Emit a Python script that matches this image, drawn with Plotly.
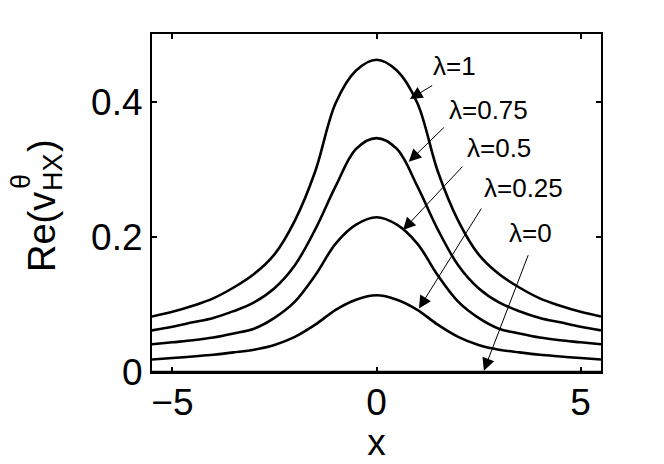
import plotly.graph_objects as go

# values (curves are symmetric about x=0)
x_vals = [-5.5, -5, -4.5, -4, -3.5, -3, -2.5, -2, -1.5, -1, -0.5, 0,
          0.5, 1, 1.5, 2, 2.5, 3, 3.5, 4, 4.5, 5, 5.5]

half_l1 = [0.082, 0.089, 0.098, 0.109, 0.125, 0.145, 0.174, 0.224, 0.297, 0.398, 0.446, 0.462]
half_l075 = [0.0615, 0.067, 0.0735, 0.080, 0.090, 0.103, 0.124, 0.158, 0.211, 0.275, 0.330, 0.346]
half_l05 = [0.041, 0.044, 0.047, 0.051, 0.057, 0.064, 0.080, 0.104, 0.143, 0.190, 0.218, 0.229]
half_l025 = [0.0184, 0.0206, 0.023, 0.0255, 0.029, 0.033, 0.040, 0.052, 0.070, 0.092, 0.107, 0.1135]
half_l0 = [0.0] * 12

lam_labels = ['\u03bb=1', '\u03bb=0.75', '\u03bb=0.5', '\u03bb=0.25', '\u03bb=0']
label_xy = [(1.90, 0.452), (2.75, 0.388), (2.99, 0.331), (3.61, 0.272), (3.77, 0.205)]
arrow_tail = [(1.40, 0.425), (1.69, 0.364), (2.14, 0.306), (2.59, 0.244), (3.73, 0.175)]
arrow_head = [(0.82, 0.404), (0.79, 0.311), (0.65, 0.210), (1.04, 0.094), (2.63, 0.002)]

x_ticks = [-5, 0, 5]
y_ticks = [0, 0.2, 0.4]

# y label pieces: Re(v, superscript theta, subscript HX, closing bracket
ylab_parts = ['Re(v', '\u03b8', 'HX', ')']

font_family = 'Liberation Sans, Arial, Helvetica, sans-serif'


def mirror(half):
    return half + half[-2::-1]


fig = go.Figure()

for half in [half_l1, half_l075, half_l05, half_l025, half_l0]:
    fig.add_trace(go.Scatter(
        x=x_vals, y=mirror(half), mode='lines',
        line=dict(color='black', width=2.6, shape='spline', smoothing=1.0),
        showlegend=False, hoverinfo='skip', cliponaxis=True,
    ))

# labels
for text, (tx, ty) in zip(lam_labels, label_xy):
    fig.add_annotation(x=tx, y=ty, text=text, showarrow=False,
                       font=dict(family=font_family, size=26, color='black'))

# arrows
for (hx, hy), (ax, ay) in zip(arrow_head, arrow_tail):
    fig.add_annotation(x=hx, y=hy, ax=ax, ay=ay, axref='x', ayref='y',
                       text='', showarrow=True, arrowhead=2, arrowsize=2.5,
                       arrowwidth=1, arrowcolor='black')

# rotated y axis label, built from pieces so that the super/subscript stack
# (centre in px from left, centre in px from top, font size)
ylab_pos = [(42, 232, 38), (21, 182, 27), (53, 172, 27), (42, 146, 38)]
plot_left, plot_top, plot_h = 152, 34, 338
for part, (cx, cy, fs) in zip(ylab_parts, ylab_pos):
    fig.add_annotation(
        xref='paper', yref='paper', x=0, y=1 - (cy - plot_top) / plot_h,
        xshift=cx - plot_left, text=part, showarrow=False, textangle=-90,
        xanchor='center', yanchor='middle',
        font=dict(family=font_family, size=fs, color='black'))

fig.update_xaxes(
    range=[-5.5, 5.5], tickvals=x_ticks, ticktext=['\u22125', '0', '5'],
    ticks='inside', ticklen=5, tickwidth=1.5, tickcolor='black',
    showline=True, linewidth=2.2, linecolor='black', mirror='ticks',
    showgrid=False, zeroline=False, ticklabelstandoff=-4,
    tickfont=dict(family=font_family, size=37, color='black'),
    title=dict(text='x', font=dict(family=font_family, size=37, color='black'), standoff=0),
)
fig.update_yaxes(
    range=[0, 0.5], tickvals=y_ticks, ticktext=['0', '0.2', '0.4'],
    ticks='inside', ticklen=5, tickwidth=1.5, tickcolor='black',
    showline=True, linewidth=2.2, linecolor='black', mirror='ticks',
    showgrid=False, zeroline=False,
    tickfont=dict(family=font_family, size=37, color='black'),
)

fig.update_layout(
    width=664, height=464,
    margin=dict(l=152, r=63, t=34, b=92),
    paper_bgcolor='white', plot_bgcolor='white',
    showlegend=False,
)

fig.write_html("out.html", config={'displayModeBar': False},
               post_script="document.body.style.margin='0';")
